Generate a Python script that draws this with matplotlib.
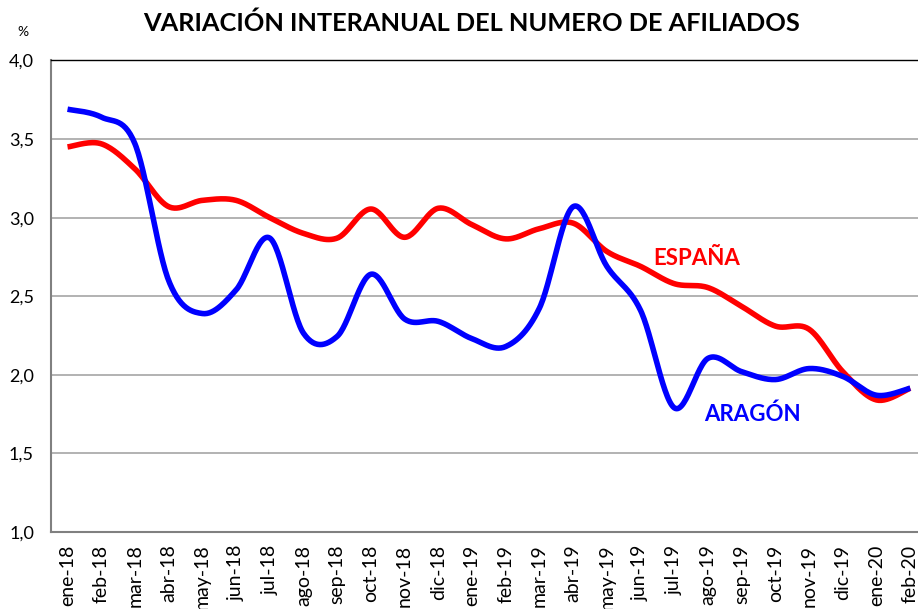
import numpy as np
import matplotlib.pyplot as plt

plt.rcParams['font.family'] = ['Lato', 'DejaVu Sans']

meses = ['ene-18', 'feb-18', 'mar-18', 'abr-18', 'may-18', 'jun-18', 'jul-18',
         'ago-18', 'sep-18', 'oct-18', 'nov-18', 'dic-18', 'ene-19', 'feb-19',
         'mar-19', 'abr-19', 'may-19', 'jun-19', 'jul-19', 'ago-19', 'sep-19',
         'oct-19', 'nov-19', 'dic-19', 'ene-20', 'feb-20']
espana = [3.45, 3.47, 3.31, 3.07, 3.11, 3.11, 3.00, 2.90, 2.87, 3.055, 2.875,
          3.06, 2.955, 2.865, 2.93, 2.965, 2.785, 2.69, 2.58, 2.555, 2.435,
          2.31, 2.29, 2.02, 1.84, 1.915]
aragon = [3.69, 3.64, 3.47, 2.60, 2.39, 2.54, 2.87, 2.265, 2.245, 2.64, 2.355,
          2.34, 2.23, 2.18, 2.425, 3.07, 2.69, 2.41, 1.79, 2.105, 2.02, 1.97,
          2.04, 1.99, 1.87, 1.915]


def suavizar(y, n=30):
    # curva Bezier tipo "linea suavizada" de Excel
    x = np.arange(len(y), dtype=float)
    y = np.asarray(y, dtype=float)
    px = np.concatenate([[x[0]], x, [x[-1]]])
    py = np.concatenate([[y[0]], y, [y[-1]]])
    xs, ys = [], []
    t = np.linspace(0, 1, n)
    for i in range(len(y) - 1):
        p0 = np.array([px[i + 1], py[i + 1]])
        p3 = np.array([px[i + 2], py[i + 2]])
        p1 = p0 + (np.array([px[i + 2], py[i + 2]]) - np.array([px[i], py[i]])) / 6
        p2 = p3 - (np.array([px[i + 3], py[i + 3]]) - np.array([px[i + 1], py[i + 1]])) / 6
        b = ((1 - t) ** 3)[:, None] * p0 + (3 * (1 - t) ** 2 * t)[:, None] * p1 \
            + (3 * (1 - t) * t ** 2)[:, None] * p2 + (t ** 3)[:, None] * p3
        xs.append(b[:, 0])
        ys.append(b[:, 1])
    return np.concatenate(xs), np.concatenate(ys)


fig = plt.figure(figsize=(9.18, 6.09), dpi=100)
ax = fig.add_axes([0.0552, 0.1264, 1 - 0.0552, 0.9007 - 0.1264])

xe, ye = suavizar(espana)
xa, ya = suavizar(aragon)
ax.plot(xe, ye, color='#ff0000', lw=4, solid_capstyle='butt', zorder=3)
ax.plot(xa, ya, color='#0000ff', lw=4, solid_capstyle='butt', zorder=4)

ax.set_xlim(-0.5, 25.23)
ax.set_ylim(1.0, 4.0)
ax.set_yticks(np.arange(1.0, 4.01, 0.5))
ax.set_yticklabels([f'{v:.1f}'.replace('.', ',') for v in np.arange(1.0, 4.01, 0.5)],
                   fontsize=13)
ax.set_xticks(range(len(meses)))
ax.set_xticklabels(meses, rotation=90, fontsize=14)
ax.tick_params(length=0, pad=9)
ax.tick_params(axis='y', pad=12)

ax.grid(axis='y', color='#a6a6a6', lw=1.2)
ax.set_axisbelow(True)
for s in ['left', 'bottom']:
    ax.spines[s].set_color('#808080')
    ax.spines[s].set_linewidth(1.5)
ax.spines['top'].set_color('black')
ax.spines['top'].set_linewidth(1)
ax.spines['right'].set_visible(False)

fig.text(0.5136, 0.962, 'VARIACIÓN INTERANUAL DEL NUMERO DE AFILIADOS',
         ha='center', va='center', fontsize=18.3, fontweight='bold')
fig.text(0.025, 0.948, '%', ha='center', va='center', fontsize=10)
ax.text(18.66, 2.74, 'ESPAÑA', color='#ff0000', fontsize=16, fontweight='bold',
        ha='center', va='center')
ax.text(20.33, 1.75, 'ARAGÓN', color='#0000ff', fontsize=16, fontweight='bold',
        ha='center', va='center')

fig.savefig('out.png', dpi=100)
